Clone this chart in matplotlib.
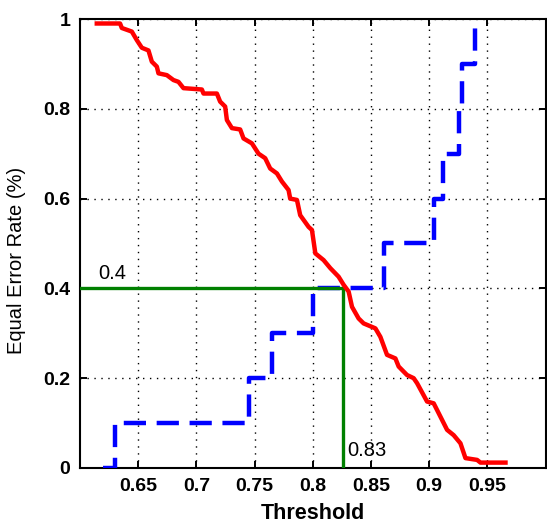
import matplotlib
matplotlib.use('Agg')
import matplotlib.pyplot as plt

plt.rcParams['font.family'] = ['Liberation Sans', 'DejaVu Sans']

# red curve (solid)
red_x = [0.6144, 0.6344, 0.6359, 0.6445, 0.6488, 0.6531, 0.6588, 0.6617, 0.6660,
         0.6674, 0.6746, 0.6803, 0.6846, 0.6889, 0.7047, 0.7061, 0.7176, 0.7204,
         0.7247, 0.7262, 0.7305, 0.7376, 0.7405, 0.7477, 0.7534, 0.7591, 0.7634,
         0.7692, 0.7735, 0.7792, 0.7806, 0.7864, 0.7892, 0.7964, 0.7993, 0.8022,
         0.8093, 0.8151, 0.8222, 0.8265, 0.8308, 0.8337, 0.8394, 0.8437, 0.8538,
         0.8581, 0.8638, 0.8710, 0.8738, 0.8810, 0.8867, 0.8896, 0.8982, 0.9039,
         0.9082, 0.9154, 0.9211, 0.9269, 0.9312, 0.9412, 0.9441, 0.9656]
red_y = [0.990, 0.990, 0.980, 0.972, 0.953, 0.936, 0.930, 0.905, 0.894,
         0.879, 0.875, 0.864, 0.860, 0.846, 0.843, 0.834, 0.834, 0.816,
         0.805, 0.775, 0.757, 0.754, 0.734, 0.723, 0.700, 0.690, 0.667,
         0.656, 0.638, 0.619, 0.600, 0.597, 0.563, 0.537, 0.530, 0.478,
         0.463, 0.445, 0.426, 0.408, 0.393, 0.359, 0.333, 0.322, 0.311,
         0.292, 0.252, 0.244, 0.226, 0.207, 0.200, 0.189, 0.148, 0.144,
         0.122, 0.085, 0.073, 0.055, 0.022, 0.018, 0.012, 0.012]

# blue curve (dashed step)
blue_x = [0.620, 0.630, 0.745, 0.765, 0.800, 0.861, 0.904, 0.912, 0.926, 0.928, 0.939]
blue_y = [0.0, 0.1, 0.2, 0.3, 0.4, 0.5, 0.6, 0.7, 0.8, 0.9, 1.0]

eer_thr = 0.826
eer_val = 0.4
xticks = [0.65, 0.7, 0.75, 0.8, 0.85, 0.9, 0.95]
yticks = [0, 0.2, 0.4, 0.6, 0.8, 1]

fig = plt.figure(figsize=(5.47, 5.25), dpi=100)
ax = fig.add_axes([0.1463, 0.1086, 0.851, 0.8552])

ax.plot(blue_x, blue_y, color='#0000ff', lw=3.2, linestyle=(0, (5, 2.4)),
        drawstyle='steps-post', zorder=3)
ax.plot([0.6, eer_thr], [eer_val, eer_val], color='#008000', lw=2.4, zorder=4)
ax.plot([eer_thr, eer_thr], [0, eer_val], color='#008000', lw=2.4, zorder=4)
ax.plot(red_x, red_y, color='#ff0000', lw=3.2, zorder=5)

ax.text(0.6158, 0.413, '0.4', fontsize=14.5, ha='left', va='bottom')
ax.text(0.8294, 0.018, '0.83', fontsize=14.5, ha='left', va='bottom')

ax.set_xlim(0.6, 1.0)
ax.set_ylim(0, 1)
ax.set_xticks(xticks)
ax.set_xticklabels([f'{t:g}' for t in xticks], fontsize=14, fontweight='bold')
ax.set_yticks(yticks)
ax.set_yticklabels([f'{t:g}' for t in yticks], fontsize=14, fontweight='bold')
ax.tick_params(direction='in', length=5, width=1.4, top=True, right=True, pad=7)
ax.grid(True, color='black', linestyle=(0, (1, 4)), lw=1)
for s in ax.spines.values():
    s.set_linewidth(1.5)

ax.set_xlabel('Threshold', fontsize=15.5, fontweight='bold')
ax.xaxis.set_label_coords(0.5, -0.078)
ax.set_ylabel('Equal Error Rate (%)', fontsize=14.5)
ax.yaxis.set_label_coords(-0.115, 0.463)

fig.savefig('out.png', dpi=100)
